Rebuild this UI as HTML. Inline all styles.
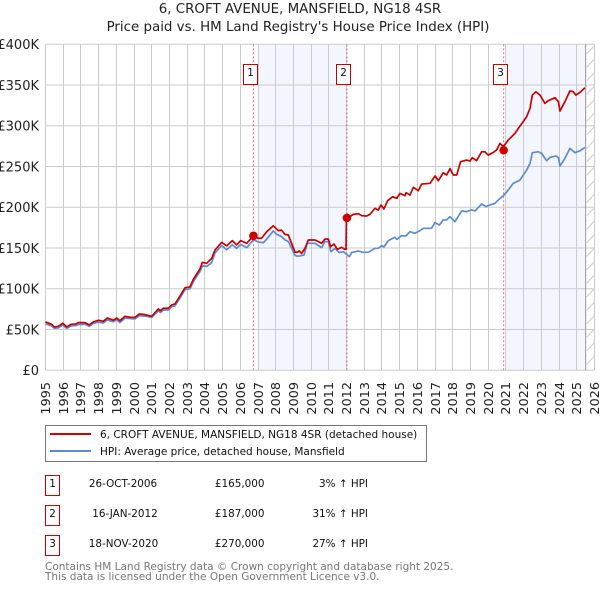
<!DOCTYPE html>
<html lang="en">
<head>
<meta charset="utf-8">
<title>6, CROFT AVENUE, MANSFIELD, NG18 4SR price paid vs HPI</title>
<style>
html,body{margin:0;padding:0;background:#fff;}
svg{display:block;font-family:"DejaVu Sans","Liberation Sans",sans-serif;}
</style>
</head>
<body>
<svg id="chart" xmlns="http://www.w3.org/2000/svg" width="600" height="590" viewBox="0 0 600 590">
  <defs>
    <pattern id="hatch" patternUnits="userSpaceOnUse" width="8.5" height="27">
      <line x1="0" y1="27" x2="8.5" y2="18" stroke="#cccccc" stroke-width="1"/>
      <line x1="0" y1="13.5" x2="8.5" y2="4.5" stroke="#cccccc" stroke-width="1"/>
    </pattern>
  </defs>
  <text x="300" y="13" text-anchor="middle" font-size="13.4" fill="#222">6, CROFT AVENUE, MANSFIELD, NG18 4SR</text>
  <text x="298" y="31" text-anchor="middle" font-size="13.4" fill="#222">Price paid vs. HM Land Registry's House Price Index (HPI)</text>
  <g id="shades"></g>
  <g id="grid"></g>
  <g id="ylabels"></g>
  <g id="xlabels"></g>
  <g id="vlines"></g>
  <g id="series"></g>
  <g id="badges"></g>

  <rect x="45.5" y="425.5" width="381" height="36" fill="#fff" stroke="#777" stroke-width="1"/>
  <line x1="50" y1="434" x2="91" y2="434" stroke="#cc0000" stroke-width="2"/>
  <text x="100" y="438" font-size="10.5" fill="#111">6, CROFT AVENUE, MANSFIELD, NG18 4SR (detached house)</text>
  <line x1="50" y1="451" x2="91" y2="451" stroke="#5b8bd0" stroke-width="2"/>
  <text x="100" y="455" font-size="10.5" fill="#111">HPI: Average price, detached house, Mansfield</text>

  <g font-size="10.4" fill="#111">
    <rect x="45.5" y="475.5" width="14" height="20" fill="#fff" stroke="#cc0000"/>
    <text x="52.5" y="487" text-anchor="middle">1</text>
    <text x="123" y="487" text-anchor="middle">26-OCT-2006</text>
    <text x="264.5" y="487" text-anchor="end">£165,000</text>
    <text x="368" y="487" text-anchor="end">3% ↑ HPI</text>
  </g>
  <g font-size="10.4" fill="#111">
    <rect x="45.5" y="505.5" width="14" height="20" fill="#fff" stroke="#cc0000"/>
    <text x="52.5" y="517" text-anchor="middle">2</text>
    <text x="125" y="517" text-anchor="middle">16-JAN-2012</text>
    <text x="264.5" y="517" text-anchor="end">£187,000</text>
    <text x="368" y="517" text-anchor="end">31% ↑ HPI</text>
  </g>
  <g font-size="10.4" fill="#111">
    <rect x="45.5" y="535.5" width="14" height="20" fill="#fff" stroke="#cc0000"/>
    <text x="52.5" y="547" text-anchor="middle">3</text>
    <text x="123.5" y="547" text-anchor="middle">18-NOV-2020</text>
    <text x="264.5" y="547" text-anchor="end">£270,000</text>
    <text x="368" y="547" text-anchor="end">27% ↑ HPI</text>
  </g>
  <text x="45" y="570" font-size="10.5" fill="#777">Contains HM Land Registry data © Crown copyright and database right 2025.</text>
  <text x="45" y="580" font-size="10.5" fill="#777">This data is licensed under the Open Government Licence v3.0.</text>
</svg>
<script>
const yearTicks = [1995,1996,1997,1998,1999,2000,2001,2002,2003,2004,2005,2006,2007,2008,2009,2010,2011,2012,2013,2014,2015,2016,2017,2018,2019,2020,2021,2022,2023,2024,2025,2026];
const valueTicks = [0,50,100,150,200,250,300,350,400];
const valueTickLabels = ['£0','£50K','£100K','£150K','£200K','£250K','£300K','£350K','£400K'];

const priceYears = [1995,1995.35,1995.5,1995.72,1995.97,1996.2,1996.44,1996.72,1996.85,1997.23,1997.47,1997.7,1997.98,1998.27,1998.49,1998.83,1999.02,1999.2,1999.49,1999.77,2000.05,2000.3,2000.62,2001,2001.37,2001.5,2001.65,2001.94,2002.12,2002.31,2002.6,2002.88,2003.16,2003.35,2003.72,2003.86,2004.1,2004.19,2004.38,2004.57,2004.95,2005.23,2005.55,2005.79,2006.02,2006.36,2006.74,2007.02,2007.2,2007.49,2007.86,2008.15,2008.33,2008.52,2008.71,2009.09,2009.22,2009.33,2009.46,2009.65,2009.84,2010.22,2010.59,2010.78,2010.97,2011.1,2011.29,2011.48,2011.72,2011.91,2011.97,2011.99,2012.03,2012.38,2012.66,2012.85,2013.13,2013.32,2013.6,2013.79,2013.94,2014.11,2014.32,2014.6,2014.83,2015.02,2015.3,2015.36,2015.58,2015.77,2016.05,2016.24,2016.71,2017,2017.18,2017.46,2017.65,2017.84,2018.03,2018.22,2018.44,2018.78,2018.97,2019.1,2019.34,2019.63,2019.81,2020,2020.29,2020.47,2020.66,2020.85,2021.13,2021.32,2021.51,2021.7,2021.88,2022.17,2022.36,2022.49,2022.69,2022.92,2023.2,2023.39,2023.77,2023.96,2024.05,2024.33,2024.61,2024.8,2024.95,2025.18,2025.46];
const priceValues = [59.3,56.4,53.2,54,57.7,53.2,56.4,56.9,58.5,58.5,55.6,59.3,61.4,60.1,64.2,61.4,64.2,60.9,66.3,65,65,69.1,68.3,66.3,75.3,73.2,76.1,76.1,80.2,81.4,91.2,101.4,102.3,111.7,124.3,132.5,131.3,133.3,137,147.6,157,152.6,159.1,153.8,159.1,155.8,164.8,162,162,170,177.4,171.3,172,166.8,166,145,144.7,146.4,143.5,149.6,159.9,159.9,155.9,161,161,151.7,155,148.4,150.9,148.4,148.6,186.5,186.4,191.3,192.2,189.7,189.3,191.3,198.7,196.6,202.8,197.9,208.1,213,211,217.1,214.2,217.9,215,224.5,220.4,228.5,229.4,238.4,232.6,242.4,239.6,247.4,239.6,239.6,256,258,256.8,260.9,257.2,268.2,268.2,264.1,267.4,270.3,278.4,274.4,282.5,286.6,290.7,296.8,302.2,311.2,321.4,337.7,341.8,337.7,327.5,330.8,334.5,329.6,318.1,329.6,342.7,341.8,337.7,341,346.7];

const hpiYears = [1995,1995.35,1995.5,1995.72,1995.97,1996.2,1996.44,1996.72,1996.85,1997.23,1997.47,1997.7,1997.98,1998.27,1998.49,1998.83,1999.02,1999.2,1999.49,1999.77,2000.05,2000.3,2000.62,2001,2001.37,2001.5,2001.65,2001.94,2002.12,2002.31,2002.6,2002.88,2003.16,2003.35,2003.72,2003.86,2004.1,2004.19,2004.38,2004.57,2004.95,2005.23,2005.55,2005.79,2006.02,2006.36,2006.74,2007.02,2007.3,2007.49,2007.86,2008.05,2008.33,2008.52,2008.71,2009.09,2009.22,2009.37,2009.6,2009.78,2010.22,2010.59,2010.78,2010.97,2011.12,2011.35,2011.59,2011.82,2012,2012.16,2012.29,2012.66,2012.95,2013.23,2013.6,2013.79,2013.98,2014.11,2014.36,2014.73,2014.83,2015.11,2015.35,2015.58,2015.86,2016.15,2016.33,2016.8,2016.99,2017.24,2017.46,2017.65,2017.84,2018.12,2018.5,2018.78,2019.06,2019.25,2019.63,2019.87,2020.1,2020.38,2020.57,2020.85,2021.13,2021.41,2021.79,2022.17,2022.36,2022.49,2022.83,2023.01,2023.3,2023.49,2023.82,2023.96,2024.05,2024.33,2024.61,2024.9,2025.18,2025.46];
const hpiValues = [57,54.5,51.5,52,55.5,51.5,54.5,55,56,56.5,54,57.5,59,58,62,59.5,62,58.5,64,63.5,63,67,66.5,65,73,71,74,74,78,79,89,99,100,109,121,128,127.5,129,132,144,153,148,154,149.5,154.5,150.5,160,157.5,156.5,161,171,167,164,160,158,141,140,140.3,141.5,155.8,155.8,150.5,157.9,157.9,145.6,149.7,144.4,145.6,142.3,139.5,144.4,146.4,144.8,144.8,149.7,149.7,153,151.3,159.1,163.2,160.7,165.2,164.8,170.1,168.1,171.4,174.2,174.2,181.2,178.3,184.5,184.5,188.5,182.4,195.5,194.7,196.7,195.5,204.1,200.8,202.9,204.9,209,214.2,221.2,229.4,233.4,245.7,253.9,267,268.2,266.2,257.2,261.3,262.9,261.3,250.6,260,272.3,267,269.4,273.5];

const saleYears = [2006.74,2012.02,2020.87];
const salePrices = [165,187,270];
const saleLabels = ['1','2','3'];
const shadedFrom = [2007,2021];
const shadedTo = [2012,2025.5];

const SVGNS = 'http://www.w3.org/2000/svg';
const X0 = 45.5, X1 = 594.5, Y0 = 370.3, Y1 = 44.3;
const firstYear = 1995, lastYear = 2026, maxValue = 400;

function xScale(year) { return X0 + (year - firstYear) * (X1 - X0) / (lastYear - firstYear); }
function yScale(value) { return Y0 - value * (Y0 - Y1) / maxValue; }
function snap(p) { return Math.floor(p) + 0.5; }
function make(tag, attrs, parent) {
  const el = document.createElementNS(SVGNS, tag);
  for (const k in attrs) el.setAttribute(k, attrs[k]);
  parent.appendChild(el);
  return el;
}
function pathFrom(xs, ys) {
  return xs.map((x, i) => (i ? 'L' : 'M') + xScale(x).toFixed(2) + ' ' + yScale(ys[i]).toFixed(2)).join(' ');
}

const shades = document.getElementById('shades');
shadedFrom.forEach((from, i) => {
  const x = xScale(from) - 0.5;
  const r = make('rect', {x: x, y: Y1, width: xScale(shadedTo[i]) - x, height: Y0 - Y1, fill: '#f3f6fe'}, shades);
  
  
});
const endX = xScale(shadedTo[1]);
const hatchRect = make('rect', {x: endX, y: Y1, width: X1 - endX, height: Y0 - Y1, fill: 'url(#hatch)'}, shades);



const grid = document.getElementById('grid');
const ylabels = document.getElementById('ylabels');
const xlabels = document.getElementById('xlabels');
valueTicks.forEach((v, i) => {
  const y = yScale(v);
  const line = make('line', {x1: X0, x2: X1, y1: y, y2: y, stroke: '#cccccc', 'stroke-width': 1}, grid);
  
  
  const t = make('text', {x: 39, y: y + 4.7, 'text-anchor': 'end', 'font-size': 13, fill: '#222'}, ylabels);
  
  
  t.textContent = valueTickLabels[i];
});
yearTicks.forEach(yr => {
  const x = snap(xScale(yr));
  const line = make('line', {x1: x, x2: x, y1: Y1, y2: Y0, stroke: '#cccccc', 'stroke-width': 1}, grid);
  
  
  const t = make('text', {transform: 'translate(' + (x + 4.5) + ',382) rotate(-90)', 'text-anchor': 'end', 'font-size': 12.8, fill: '#222'}, xlabels);
  
  
  t.textContent = String(yr);
});

const vlines = document.getElementById('vlines');
saleYears.forEach(yr => {
  const x = xScale(yr);
  const l = make('line', {x1: x, x2: x, y1: Y1, y2: Y0, stroke: '#e8485a', 'stroke-width': 1, 'stroke-dasharray': '2 2', 'stroke-opacity': 0.8}, vlines);
  
  
});
const endLine = make('line', {x1: endX, x2: endX, y1: Y1, y2: Y0, stroke: '#999999', 'stroke-width': 1}, vlines);



const series = document.getElementById('series');
const hpiLine = make('path', {d: pathFrom(hpiYears, hpiValues), fill: 'none', stroke: '#5b8bd0', 'stroke-width': 1.7, 'stroke-linejoin': 'round'}, series);


const priceLine = make('path', {d: pathFrom(priceYears, priceValues), fill: 'none', stroke: '#cc0000', 'stroke-width': 1.7, 'stroke-linejoin': 'round'}, series);


saleYears.forEach((yr, i) => {
  const c = make('circle', {cx: xScale(yr), cy: yScale(salePrices[i]), r: 4.3, fill: '#cc0000'}, series);
  
  
});

const badges = document.getElementById('badges');
saleYears.forEach((yr, i) => {
  const x = Math.floor(xScale(yr)) + 0.5;
  const r = make('rect', {x: x - 10, y: 64.5, width: 14, height: 20, fill: '#fff', stroke: '#cc0000', 'stroke-width': 1}, badges);
  
  
  const t = make('text', {x: x - 3, y: 76, 'text-anchor': 'middle', 'font-size': 10.4, fill: '#111'}, badges);
  
  
  t.textContent = saleLabels[i];
});
</script>
</body>
</html>
